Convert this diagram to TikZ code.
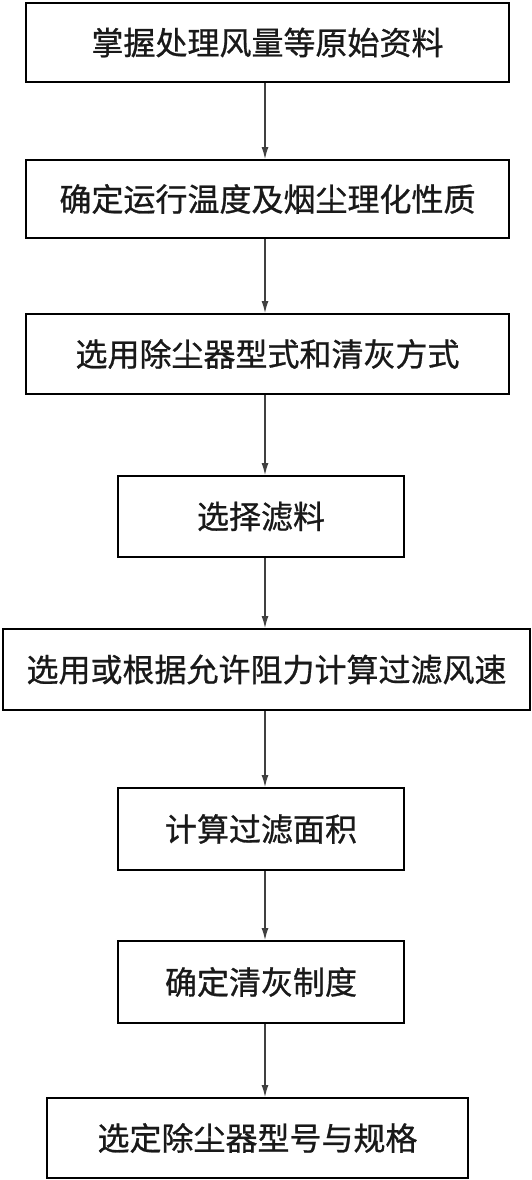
\documentclass[tikz,border=0pt]{standalone}
\usepackage{fontspec}
\newfontfamily\cjk[FakeBold=0.8]{Noto Sans CJK SC}
\usetikzlibrary{arrows.meta}
\tikzset{
  box/.style={draw=black, line width=2pt, fill=white, inner sep=0pt, anchor=center,
    font=\cjk\fontsize{32}{36}\selectfont, text=black!90},
  arr/.style={draw=black!75, line width=1.2pt, -{Latex[length=12pt,width=7pt]}}
}
\begin{document}
\begin{tikzpicture}[x=1pt,y=-1pt]
\fill[white] (0,0) rectangle (532,1180);
\useasboundingbox (0,0) rectangle (532,1180);
\coordinate (ax) at (265,0);
\node[box, minimum width=483pt, minimum height=79pt] (b1) at (267.5,42.5) {掌握处理风量等原始资料};
\node[box, minimum width=483pt, minimum height=78pt] (b2) at (267.5,199) {确定运行温度及烟尘理化性质};
\node[box, minimum width=483pt, minimum height=80pt] (b3) at (267.5,354) {选用除尘器型式和清灰方式};
\node[box, minimum width=286pt, minimum height=81pt] (b4) at (261,516.5) {选择滤料};
\node[box, minimum width=527pt, minimum height=81pt] (b5) at (266.5,669.5) {选用或根据允许阻力计算过滤风速};
\node[box, minimum width=286pt, minimum height=82pt] (b6) at (261,829) {计算过滤面积};
\node[box, minimum width=286pt, minimum height=82pt] (b7) at (261,982) {确定清灰制度};
\node[box, minimum width=421pt, minimum height=80pt] (b8) at (257.5,1138) {选定除尘器型号与规格};
\foreach \a/\b in {b1/b2,b2/b3,b3/b4,b4/b5,b5/b6,b6/b7,b7/b8}
  \draw[arr] (\a.south -| ax) -- (\b.north -| ax);
\end{tikzpicture}
\end{document}
